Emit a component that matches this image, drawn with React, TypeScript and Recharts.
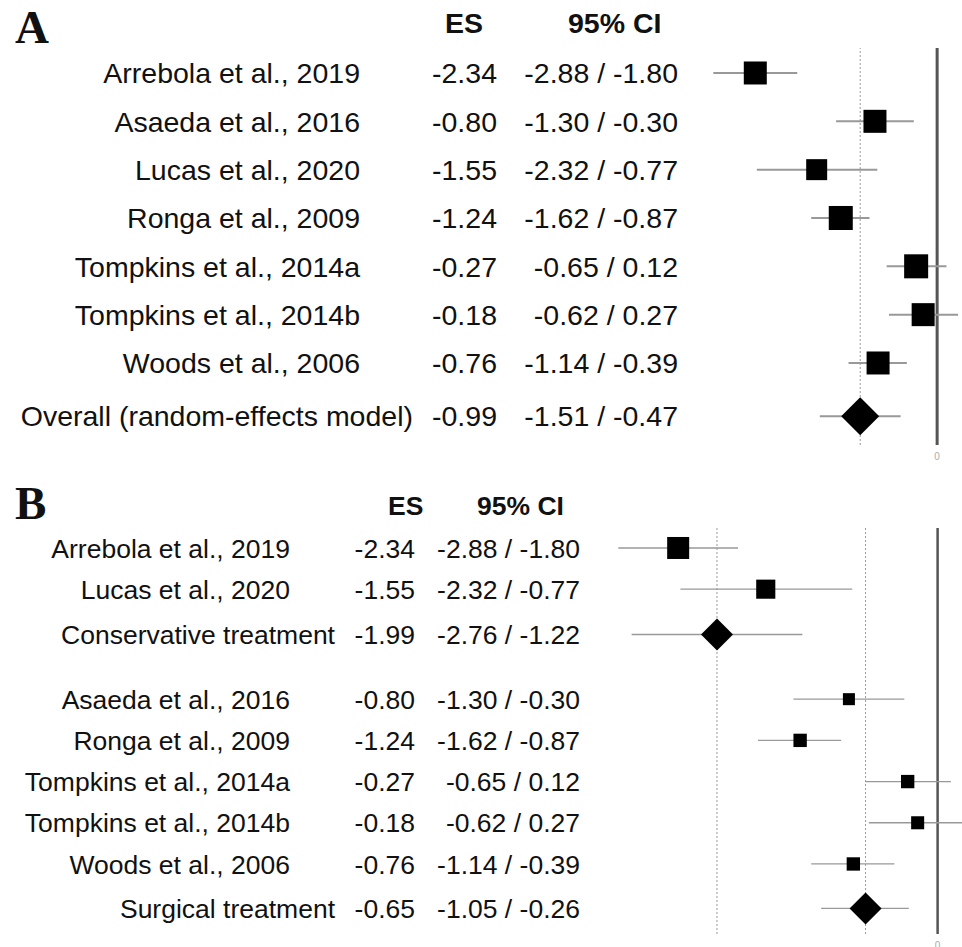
import React from 'react';
import { ScatterChart, Scatter, XAxis, YAxis, ErrorBar, ReferenceLine } from 'recharts';

// Panel A: all studies
const labelsA = [
  'Arrebola et al., 2019',
  'Asaeda et al., 2016',
  'Lucas et al., 2020',
  'Ronga et al., 2009',
  'Tompkins et al., 2014a',
  'Tompkins et al., 2014b',
  'Woods et al., 2006',
  'Overall (random-effects model)',
];
const esA = [-2.34, -0.8, -1.55, -1.24, -0.27, -0.18, -0.76, -0.99];
const loA = [-2.88, -1.3, -2.32, -1.62, -0.65, -0.62, -1.14, -1.51];
const hiA = [-1.8, -0.3, -0.77, -0.87, 0.12, 0.27, -0.39, -0.47];
const weightA = [14.3, 14.3, 11.9, 15.6, 15.6, 14.3, 14.3, 100];
const kindA = ['study', 'study', 'study', 'study', 'study', 'study', 'study', 'summary'];
const rowA = [0, 1, 2, 3, 4, 5, 6, 7.1];

// Panel B: by treatment subgroup
const labelsB = [
  'Arrebola et al., 2019',
  'Lucas et al., 2020',
  'Conservative treatment',
  'Asaeda et al., 2016',
  'Ronga et al., 2009',
  'Tompkins et al., 2014a',
  'Tompkins et al., 2014b',
  'Woods et al., 2006',
  'Surgical treatment',
];
const esB = [-2.34, -1.55, -1.99, -0.8, -1.24, -0.27, -0.18, -0.76, -0.65];
const loB = [-2.88, -2.32, -2.76, -1.3, -1.62, -0.65, -0.62, -1.14, -1.05];
const hiB = [-1.8, -0.77, -1.22, -0.3, -0.87, 0.12, 0.27, -0.39, -0.26];
const weightB = [57, 43, 100, 17, 21, 21, 20, 21, 100];
const kindB = ['study', 'study', 'summary', 'study', 'study', 'study', 'study', 'study', 'summary'];
const rowB = [0, 1, 2.1, 3.67, 4.67, 5.67, 6.67, 7.67, 8.75];

const sans = '"Liberation Sans", Arial, sans-serif';
const serif = '"Liberation Serif", "Times New Roman", serif';

type Row = { label: string; es: number; lo: number; hi: number; weight: number; kind: string; pos: number };

function buildRows(labels: string[], es: number[], lo: number[], hi: number[], w: number[], kind: string[], pos: number[]): Row[] {
  return labels.map((label, i) => ({ label, es: es[i], lo: lo[i], hi: hi[i], weight: w[i], kind: kind[i], pos: pos[i] }));
}

interface PanelProps {
  rows: Row[];
  top: number;
  height: number;
  yDomain: [number, number];
  xDomain: [number, number];
  axisWidth: number;
  marginBottom: number;
  xAxisHeight: number;
  fontSize: number;
  labelRight: number;
  summaryRight: number;
  esRight: number;
  ciRight: number;
  boxScale: number;
  diamond: number;
  ciWidth: number;
  zeroWidth: number;
}

function ForestPanel(p: PanelProps) {
  const summaries = p.rows.filter((r) => r.kind === 'summary');

  const renderTick = (props: any) => {
    const row = p.rows.find((r) => Math.abs(r.pos - props.payload.value) < 1e-6);
    if (!row) return <g />;
    const y = props.y;
    const right = row.kind === 'summary' ? p.summaryRight : p.labelRight;
    return (
      <g fontFamily={sans} fontSize={p.fontSize} fill="#111">
        <text x={right} y={y} dy="0.36em" textAnchor="end">{row.label}</text>
        <text x={p.esRight} y={y} dy="0.36em" textAnchor="end">{row.es.toFixed(2)}</text>
        <text x={p.ciRight} y={y} dy="0.36em" textAnchor="end">
          {`${row.lo.toFixed(2)} / ${row.hi.toFixed(2)}`}
        </text>
      </g>
    );
  };

  const renderShape = (props: any) => {
    const { cx, cy, payload } = props;
    if (payload.kind === 'summary') {
      const h = p.diamond / 2;
      return <polygon points={`${cx - h},${cy} ${cx},${cy - h} ${cx + h},${cy} ${cx},${cy + h}`} fill="#000" />;
    }
    const s = p.boxScale * Math.sqrt(payload.weight);
    return <rect x={cx - s / 2} y={cy - s / 2} width={s} height={s} fill="#000" />;
  };

  return (
    <div style={{ position: 'absolute', left: 0, top: p.top, width: 962, height: p.height }}>
      <ScatterChart width={962} height={p.height} margin={{ top: 48, right: 0, bottom: p.marginBottom, left: 0 }}>
        <XAxis
          type="number"
          dataKey="es"
          domain={p.xDomain}
          allowDataOverflow
          ticks={[0]}
          height={p.xAxisHeight}
          tickLine={false}
          axisLine={false}
          tick={{ fontSize: 10, fill: '#aaa', fontFamily: sans }}
        />
        <YAxis
          type="number"
          dataKey="pos"
          domain={p.yDomain}
          allowDataOverflow
          reversed
          ticks={p.rows.map((r) => r.pos)}
          interval={0}
          width={p.axisWidth}
          tickLine={false}
          axisLine={false}
          tick={renderTick}
        />
        {summaries.map((s) => (
          <ReferenceLine key={s.label} x={s.es} stroke="#999" strokeWidth={1} strokeDasharray="2 2" />
        ))}
        <ReferenceLine x={0} stroke="#555" strokeWidth={p.zeroWidth} />
        <Scatter data={p.rows} shape={renderShape} isAnimationActive={false}>
          <ErrorBar
            dataKey={(d: Row) => [d.es - d.lo, d.hi - d.es]}
            direction="x"
            width={0}
            stroke="#999"
            strokeWidth={p.ciWidth}
          />
        </Scatter>
      </ScatterChart>
    </div>
  );
}

export default function App() {
  const rowsA = buildRows(labelsA, esA, loA, hiA, weightA, kindA, rowA);
  const rowsB = buildRows(labelsB, esB, loB, hiB, weightB, kindB, rowB);
  return (
    <div style={{ position: 'absolute', left: 0, top: 0, width: 962, height: 947, overflow: 'hidden', background: '#fff' }}>
      {/* panel letters and column headers */}
      <svg width={962} height={947} style={{ position: 'absolute', left: 0, top: 0 }}>
        <g fontFamily={serif} fontWeight="bold" fontSize={47} fill="#111">
          <text x={15} y={43}>A</text>
          <text x={15} y={519}>B</text>
        </g>
        <g fontFamily={sans} fontWeight="bold" fill="#111">
          <text x={445} y={33} fontSize={28.5}>ES</text>
          <text x={568} y={33} fontSize={28.5}>95% CI</text>
          <text x={388} y={515} fontSize={26.5}>ES</text>
          <text x={477} y={515} fontSize={26.5}>95% CI</text>
        </g>
      </svg>
      <ForestPanel
        rows={rowsA}
        top={0}
        height={480}
        yDomain={[-0.517, 7.697]}
        xDomain={[-3, 0.32]}
        axisWidth={704}
        marginBottom={15}
        xAxisHeight={20}
        fontSize={28.5}
        labelRight={360}
        summaryRight={413}
        esRight={497}
        ciRight={678}
        boxScale={6.08}
        diamond={38}
        ciWidth={2}
        zeroWidth={3}
      />
      <ForestPanel
        rows={rowsB}
        top={480}
        height={467}
        yDomain={[-0.485, 9.37]}
        xDomain={[-3, 0.22]}
        axisWidth={605}
        marginBottom={0}
        xAxisHeight={13}
        fontSize={26.5}
        labelRight={290}
        summaryRight={335}
        esRight={415}
        ciRight={580}
        boxScale={2.914}
        diamond={32}
        ciWidth={1.3}
        zeroWidth={2.5}
      />
    </div>
  );
}
